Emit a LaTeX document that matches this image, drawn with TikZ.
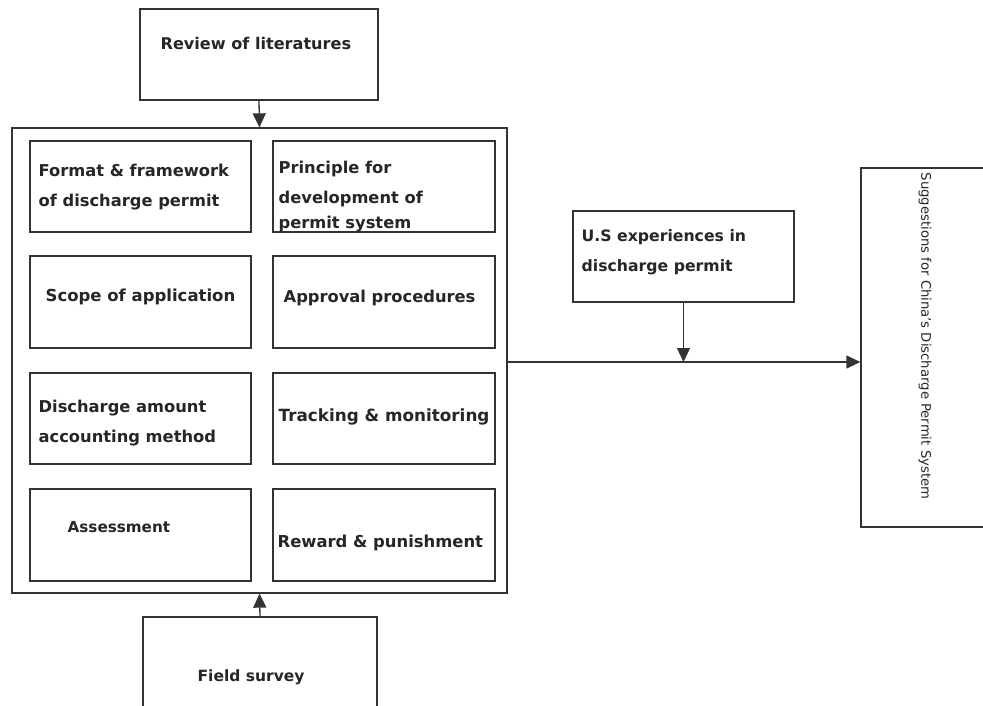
\documentclass[tikz,border=0pt]{standalone}
\usepackage{fontspec}
\setmainfont{DejaVu Sans}
\usetikzlibrary{arrows.meta,calc}
\newcommand{\fsz}[1]{\fontsize{#1}{30}\selectfont}
\begin{document}
\begin{tikzpicture}[x=1pt,y=-1pt,
  line width=1.3pt,
  ink/.style={draw=black!80},
  box/.style={ink,rectangle,inner sep=0pt},
  txt/.style={font=\bfseries\fsz{16.3},text=black!85,anchor=west,align=left,inner sep=0pt},
  link/.style={ink,-{Triangle[length=14pt,width=13pt]}}
]
\useasboundingbox (0,0) rectangle (983,706);
\clip (0,0) rectangle (983,706);
\fill[white] (0,0) rectangle (983,706);

% sources and outer frame
\node[box,minimum width=238,minimum height=91] (rev) at (259,54.5) {};
\node[box,minimum width=495,minimum height=465] (frame) at (259.5,360.5) {};
\node[box,minimum width=234,minimum height=120] (field) at (260,677) {};
\node[box,minimum width=221,minimum height=91] (us) at (683.5,256.5) {};
\node[box,minimum width=140,minimum height=359] (sug) at (931,347.5) {};

% topic boxes inside the frame
\node[box,minimum width=221,minimum height=91] (b1) at (140.5,186.5) {};
\node[box,minimum width=222,minimum height=91] (b2) at (384,186.5) {};
\node[box,minimum width=221,minimum height=92] (b3) at (140.5,302) {};
\node[box,minimum width=222,minimum height=92] (b4) at (384,302) {};
\node[box,minimum width=221,minimum height=91] (b5) at (140.5,418.5) {};
\node[box,minimum width=222,minimum height=91] (b6) at (384,418.5) {};
\node[box,minimum width=221,minimum height=92] (b7) at (140.5,535) {};
\node[box,minimum width=222,minimum height=92] (b8) at (384,535) {};

% texts
\node[txt,font=\bfseries\fsz{16.1}] (trev) at (160,43) {Review of literatures};
\node[txt] (t1) at (38,187) {Format \& framework\\of discharge permit};
\node[txt] (t2) at (278,197) {Principle for\\development of\\[-5pt]permit system};
\node[txt,font=\bfseries\fsz{16.5}] (t3) at (45,297) {Scope of application};
\node[txt] (t4) at (283,298) {Approval procedures};
\node[txt] (t5) at (38,423) {Discharge amount\\accounting method};
\node[txt,font=\bfseries\fsz{16.8}] (t6) at (278,417) {Tracking \& monitoring};
\node[txt,font=\bfseries\fsz{15.2}] (t7) at (67,527) {Assessment};
\node[txt,font=\bfseries\fsz{16.4}] (t8) at (277,543) {Reward \& punishment};
\node[txt,font=\bfseries\fsz{15.5}] (tfield) at (197,677) {Field survey};
\node[txt,font=\bfseries\fsz{15.7}] (tus) at (581,252) {U.S experiences in\\discharge permit};
\node[font=\fsz{13.2},text=black!85,rotate=-90,inner sep=0pt] (tsug) at (925,336) {Suggestions for China's Discharge Permit System};

% connectors
\coordinate (join) at (683.5,362);
\draw[link] (rev.south) -- (frame.north);
\draw[link] (field.north) -- (frame.south);
\draw[link] (frame.east |- join) -- (sug.west |- join);
\draw[link] (us.south) -- (join);
\end{tikzpicture}
\end{document}
